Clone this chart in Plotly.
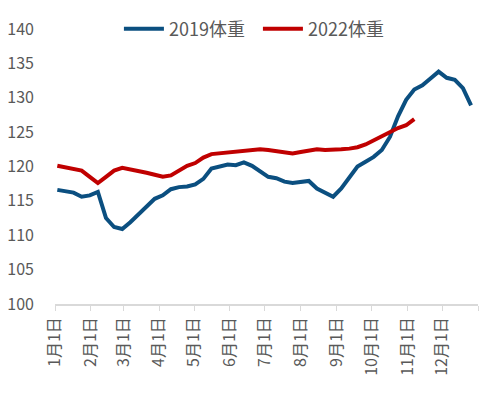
import plotly.graph_objects as go
import pandas as pd

start = "2019-01-03"
v2019 = [116.6, 116.4, 116.2, 115.6, 115.8, 116.3, 112.5, 111.2, 110.9, 111.9,
         113.1, 114.1, 115.3, 115.8, 116.7, 117.0, 117.1, 117.4, 118.2, 119.7,
         120.0, 120.3, 120.2, 120.6, 120.1, 119.3, 118.5, 118.3, 117.8, 117.6,
         117.7, 117.9, 116.8, 116.2, 115.6, 116.8, 118.4, 120.0, 120.7, 121.4,
         122.4, 124.3, 127.3, 129.7, 131.2, 131.8, 132.8, 133.8, 132.9, 132.6,
         131.4, 128.9]
v2022 = [120.1, 119.9, 119.7, 119.4, 118.5, 117.6, 118.5, 119.4, 119.8, 119.6,
         119.3, 119.1, 118.8, 118.5, 118.7, 119.4, 120.1, 120.5, 121.3, 121.8,
         121.9, 122.0, 122.1, 122.3, 122.3, 122.5, 122.4, 122.2, 122.1, 121.9,
         122.1, 122.3, 122.5, 122.4, 122.4, 122.5, 122.6, 122.8, 123.2, 123.8,
         124.4, 125.0, 125.6, 126.0, 126.9]
names = ["2019体重", "2022体重"]
tick_dates = pd.date_range("2019-01-01", periods=12, freq="MS")
tick_labels = [f"{m}月1日" for m in range(1, 13)]
y_ticks = list(range(100, 141, 5))

d2019 = pd.date_range(start, periods=len(v2019), freq="7D")
d2022 = pd.date_range(start, periods=len(v2022), freq="7D")

gray = "#595959"
font = "Noto Sans CJK SC"

fig = go.Figure()
fig.add_trace(go.Scatter(x=d2019, y=v2019, mode="lines", name=names[0],
                         line=dict(color="#0B4F80", width=4)))
fig.add_trace(go.Scatter(x=d2022, y=v2022, mode="lines", name=names[1],
                         line=dict(color="#C00000", width=4)))

fig.update_layout(
    width=496, height=393,
    margin=dict(l=55, r=18, t=29, b=89, autoexpand=False),
    paper_bgcolor="white", plot_bgcolor="white",
    font=dict(family=font, color=gray, size=16),
    showlegend=True,
    legend=dict(orientation="h", xref="container", x=0.52, xanchor="center",
                yref="container", y=1 - 29/393, yanchor="middle",
                font=dict(size=18, color=gray), itemwidth=40,
                entrywidth=84, bgcolor="rgba(0,0,0,0)"),
    xaxis=dict(range=["2019-01-01", "2020-01-01"], tickmode="array",
               tickvals=list(tick_dates) + [pd.Timestamp("2020-01-01")],
               ticktext=tick_labels + [""],
               tickangle=-90, ticks="outside", ticklen=5, tickcolor="#D9D9D9",
               showline=True, linecolor="#D9D9D9", linewidth=1.5,
               showgrid=False, zeroline=False, automargin=False,
               tickfont=dict(size=16, color=gray, family=font)),
    yaxis=dict(range=[100, 140], tickmode="array", tickvals=y_ticks,
               showgrid=False, zeroline=False, showline=False,
               ticks="", ticklabelstandoff=20, automargin=False,
               tickfont=dict(size=16, color=gray, family=font)),
)

fig.write_html("out.html", config={"displayModeBar": False},
               post_script="document.body.style.margin='0';document.body.style.padding='0';")
